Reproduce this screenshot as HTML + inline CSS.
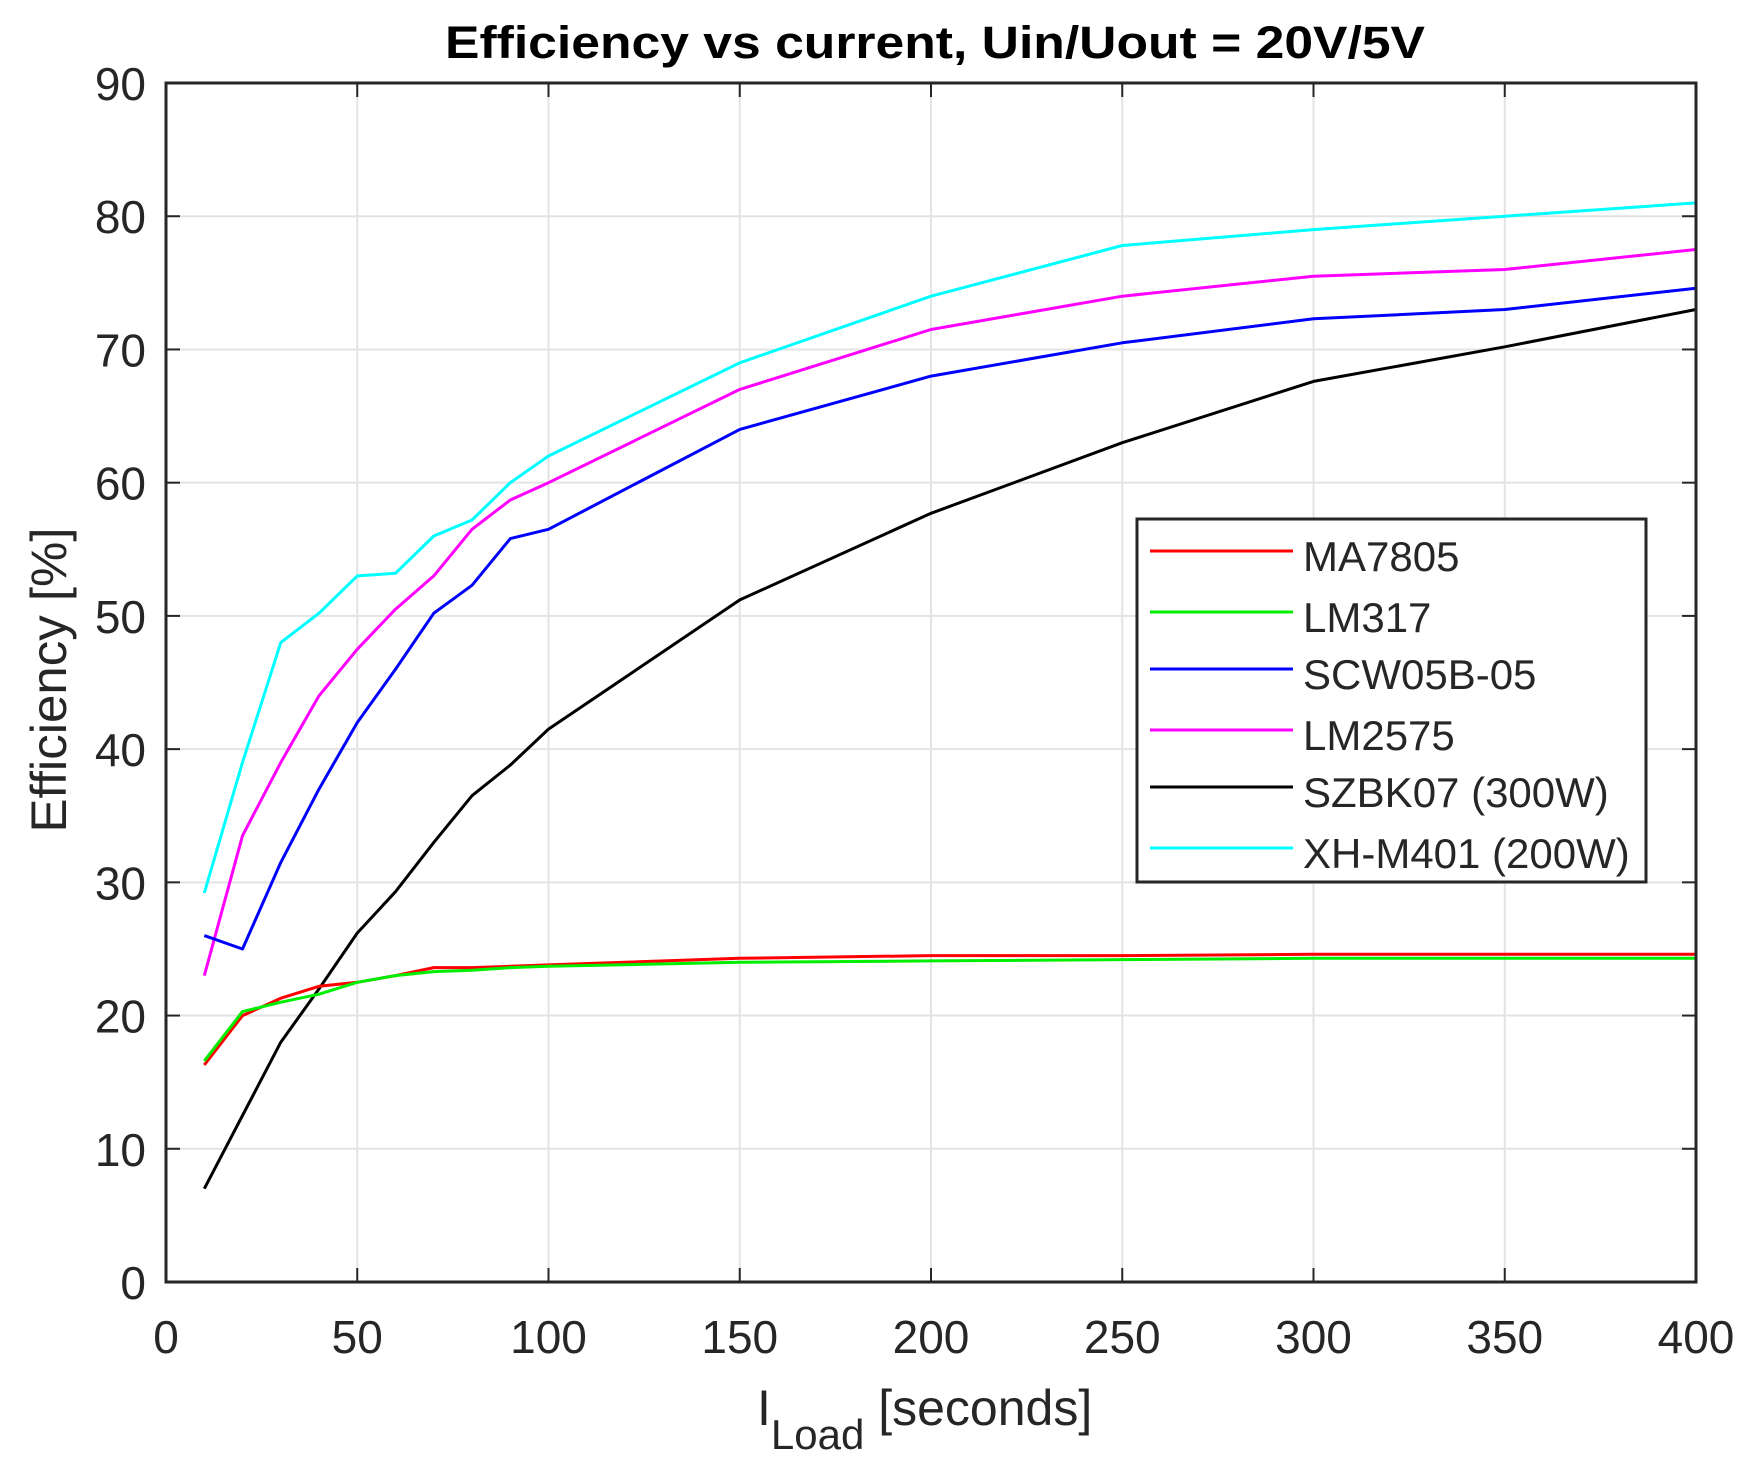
<!DOCTYPE html>
<html><head><meta charset="utf-8"><style>html,body{margin:0;padding:0;background:#fff}svg{display:block}</style></head>
<body>
<svg id="s" width="1749" height="1464" xmlns="http://www.w3.org/2000/svg" font-family="Liberation Sans, Arial, sans-serif">
<rect width="1749" height="1464" fill="#fff"/>
<g id="grid" stroke="#e3e3e3" stroke-width="2"></g>
<g id="ticks" stroke="#262626" stroke-width="2"></g>
<g id="series" fill="none" stroke-width="3" stroke-linejoin="round"></g>
<rect x="166" y="83" width="1530" height="1199" fill="none" stroke="#262626" stroke-width="3"/>
<g id="labels" font-size="46" fill="#262626"></g>
<text x="935" y="58" font-size="45" font-weight="bold" text-anchor="middle" fill="#000" textLength="980" lengthAdjust="spacingAndGlyphs">Efficiency vs current, Uin/Uout = 20V/5V</text>
<text transform="translate(66,680) rotate(-90)" font-size="50" text-anchor="middle" fill="#262626" textLength="305" lengthAdjust="spacingAndGlyphs">Efficiency [%]</text>
<text x="757" y="1425" font-size="50" fill="#262626">I<tspan font-size="42" dy="24">Load</tspan><tspan dy="-24"> [seconds]</tspan></text>
<rect x="1137" y="519" width="509" height="363" fill="#fff" stroke="#262626" stroke-width="3"/>
<g font-size="42" fill="#262626" stroke-width="3">
<line x1="1150" y1="551" x2="1293" y2="551" stroke="#ff0000"/><text x="1303" y="571">MA7805</text>
<line x1="1150" y1="612" x2="1293" y2="612" stroke="#00ee00"/><text x="1303" y="632">LM317</text>
<line x1="1150" y1="669" x2="1293" y2="669" stroke="#0000ff"/><text x="1303" y="689">SCW05B-05</text>
<line x1="1150" y1="730" x2="1293" y2="730" stroke="#ff00ff"/><text x="1303" y="750">LM2575</text>
<line x1="1150" y1="787" x2="1293" y2="787" stroke="#000"/><text x="1303" y="807">SZBK07 (300W)</text>
<line x1="1150" y1="848" x2="1293" y2="848" stroke="#00ffff"/><text x="1303" y="868">XH-M401 (200W)</text>
</g>
</svg>
<script>
const NS="http://www.w3.org/2000/svg";
const X=v=>166+v*3.825, Y=p=>1282-p*13.322;
function el(p,t,a,txt){const e=document.createElementNS(NS,t);for(const k in a)e.setAttribute(k,a[k]);if(txt!=null)e.textContent=txt;document.getElementById(p).appendChild(e);}
for(let v=50;v<400;v+=50){el('grid','line',{x1:X(v),y1:83,x2:X(v),y2:1282});el('ticks','line',{x1:X(v),y1:1282,x2:X(v),y2:1268});el('ticks','line',{x1:X(v),y1:83,x2:X(v),y2:97});}
for(let p=10;p<90;p+=10){el('grid','line',{x1:166,y1:Y(p),x2:1696,y2:Y(p)});el('ticks','line',{x1:166,y1:Y(p),x2:180,y2:Y(p)});el('ticks','line',{x1:1696,y1:Y(p),x2:1682,y2:Y(p)});}
for(let v=0;v<=400;v+=50)el('labels','text',{x:X(v),y:1353,'text-anchor':'middle'},String(v));
for(let p=0;p<=90;p+=10)el('labels','text',{x:146,y:Y(p)+17,'text-anchor':'end'},String(p));
const xs=[10,20,30,40,50,60,70,80,90,100,150,200,250,300,350,400];
const S=[
["#000",[7,12.5,18,22,26.2,29.3,33,36.5,38.8,41.5,51.2,57.7,63,67.6,70.2,73]],
["#00ffff",[29.2,39,48,50.2,53,53.2,56,57.2,60,62,69,74,77.8,79,80,81]],
["#ff00ff",[23,33.5,39,44,47.5,50.5,53,56.5,58.7,60,67,71.5,74,75.5,76,77.5]],
["#0000ff",[26,25,31.5,37,42,46,50.2,52.3,55.8,56.5,64,68,70.5,72.3,73,74.6]],
["#ff0000",[16.3,20,21.3,22.2,22.5,23,23.6,23.6,23.7,23.8,24.3,24.5,24.5,24.6,24.6,24.6]],
["#00ee00",[16.6,20.3,21,21.6,22.5,23,23.3,23.4,23.6,23.7,24,24.1,24.2,24.3,24.3,24.3]]];
for(const [c,d] of S)el('series','polyline',{stroke:c,points:xs.map((x,i)=>X(x).toFixed(1)+','+Y(d[i]).toFixed(1)).join(' ')});
</script>
</body></html>
